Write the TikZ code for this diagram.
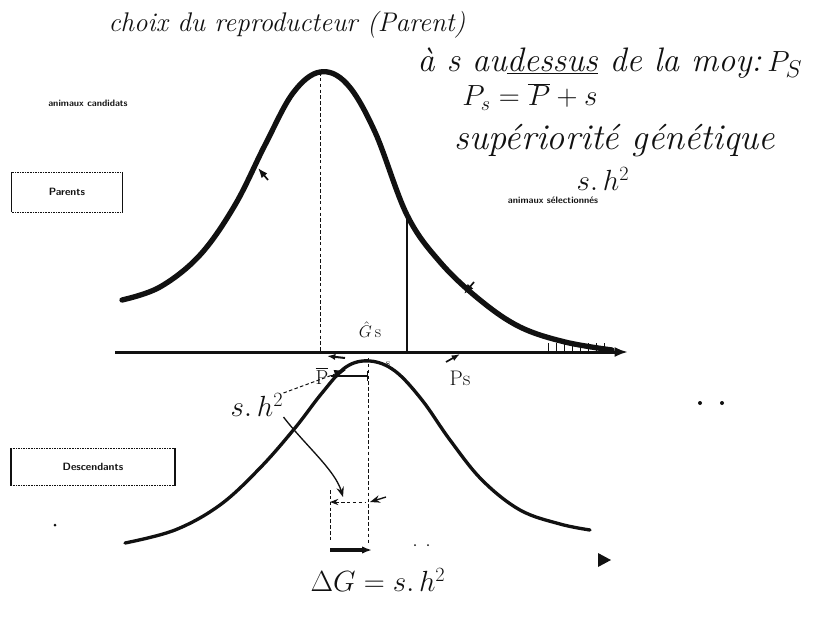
\documentclass[tikz,border=0pt]{standalone}
\usepackage{tikz}
\usetikzlibrary{arrows.meta, positioning, calc}
\definecolor{encre}{HTML}{111111}

\begin{document}
\begin{tikzpicture}[x=0.3mm, y=-0.3mm,
        main/.style={font=\fontsize{23}{26}\selectfont\itshape, text=encre, inner sep=0pt},
        petit/.style={font=\sffamily\bfseries\fontsize{8}{9}\selectfont, text=encre, inner sep=1pt},
        cadre/.style={font=\sffamily\bfseries\fontsize{9}{10}\selectfont, text=encre, inner sep=0pt},
        lbl/.style={font=\fontsize{18}{20}\selectfont, text=encre, inner sep=0pt},
        courbe/.style={encre, line cap=round, line join=round},
        axe/.style={encre, line width=0.9mm, -{Latex[length=4mm,width=3mm]}},
        fleche/.style={encre, line width=0.4mm, -{Stealth[length=3mm]}},
        guide/.style={encre, densely dashed, line width=0.3mm}
    ]
        \useasboundingbox (0,0) rectangle (828,620);

        \node[main] (titre) at (287,25) {choix du reproducteur (Parent)};
        \node[main, font=\fontsize{29}{32}\selectfont\itshape] (dessus) at (610,63) {à s au\underline{dessus} de la moy:\,$P_S$};
        \node[main, font=\fontsize{26}{28}\selectfont] (egal) at (530,97) {$P_s = \overline{P} + s$};
        \node[main, font=\fontsize{31}{34}\selectfont\itshape] (superio) at (615,141) {supériorité génétique};
        \node[main, font=\fontsize{27}{30}\selectfont] (shsup) at (603,179) {$s.\,h^2$};

        \node[petit] (candidats) at (88,103) {animaux candidats};
        \node[petit] (selection) at (553,200) {animaux sélectionnés};
        \node[cadre, minimum width=33mm, minimum height=12mm] (parents) at (67,192) {Parents};
        \node[cadre, minimum width=49mm, minimum height=11mm] (descend) at (93,467) {Descendants};
        \foreach \b in {parents, descend} {
            \draw[encre, line width=0.4mm] (\b.north west) -- (\b.south west);
            \draw[encre, line width=0.4mm] (\b.north east) -- (\b.south east);
            \draw[encre, densely dotted] (\b.north west) -- (\b.north east);
            \draw[encre, densely dotted] (\b.south west) -- (\b.south east);
        }

        \coordinate (axeG) at (115,352);
        \coordinate (axeD) at (628,352);
        \coordinate (moyP) at (320,72);
        \coordinate (moyPbas) at (320,352);
        \coordinate (seuil) at (407,215);
        \coordinate (seuilbas) at (407,352);
        \coordinate (moyD) at (368,358);
        \coordinate (moyDbas) at (368,545);

        \draw[courbe, line width=1.6mm] plot[smooth, tension=0.6] coordinates {(122,300) (160,287) (200,255) (235,205) (265,145) (293,93) (320,72) (347,84) (375,132) (407,215) (440,262) (480,300) (520,327) (565,342) (612,350)};
        \foreach \x in {548,556,...,604} \draw[encre, line width=0.3mm] (\x,343) -- (\x,352);
        \draw[guide] (moyP) -- (moyPbas);
        \draw[encre, line width=0.4mm] (seuil) -- (seuilbas);
        \draw[axe] (axeG) -- (axeD);

        \node[lbl, font=\fontsize{15}{17}\selectfont] (gs) at (370,330) {$\hat{G}$\,s};
        \node[lbl] (pbar) at (322,376) {$\overline{\mathrm{P}}$};
        \node[font=\small, text=encre] (s) at (388,364) {s};
        \node[lbl] (ps) at (460,378) {Ps};
        \draw[encre, line width=0.6mm, -{Latex[length=2.5mm]}] (345,358) -- (327,356);
        \draw[encre, line width=0.5mm, -{Latex[length=2.5mm]}] (446,362) -- (460,354);
        \draw[encre, line width=0.4mm, -{Bar[width=3mm]}] ([xshift=2pt]pbar.east) -- (moyD |- pbar.east);
        \draw[encre, line width=0.5mm, -{Latex[length=3mm]}] (268,180) -- (258,168);
        \draw[encre, line width=0.5mm, -{Latex[length=3mm]}] (474,282) -- (464,294);

        \draw[courbe, line width=1mm] plot[smooth, tension=0.6] coordinates {(125,543) (175,530) (220,505) (260,468) (295,428) (322,393) (346,367) (370,361) (395,371) (422,400) (450,440) (482,480) (520,510) (560,524) (590,530)};
        \draw[guide] (moyD) -- (moyDbas);

        \node[main, font=\fontsize{27}{30}\selectfont] (shbas) at (257,405) {$s.\,h^2$};
        \coordinate (pointe) at (346,370);
        \coordinate (cible) at (343,497);
        \draw[guide, -{Latex[length=3.5mm]}] (shbas.north east) -- (pointe);
        \draw[fleche] (shbas.south east) .. controls (305,445) and (335,470) .. (cible);

        \coordinate (ecartG) at (330,502);
        \coordinate (ecartD) at (366,502);
        \draw[guide] (330,490) -- (330,540);
        \draw[guide, {Stealth[length=2.5mm]}-] (ecartG) -- (ecartD);
        \draw[fleche] (386,497) -- (370,502);
        \draw[encre, line width=1mm, -{Latex[length=3mm]}] (330,550) -- (372,550);
        \node[main] (deltag) at (378,580) {$\Delta G = s.\,h^2$};

        \fill[encre] (700,403) circle (2);
        \fill[encre] (722,403) circle (2);
        \fill[encre] (55,525) circle (1.5);
        \fill[encre] (415,545) circle (1);
        \fill[encre] (428,545) circle (1);
        \fill[encre] (598,553) -- (611,560) -- (598,567) -- cycle;
    \end{tikzpicture}
\end{document}
